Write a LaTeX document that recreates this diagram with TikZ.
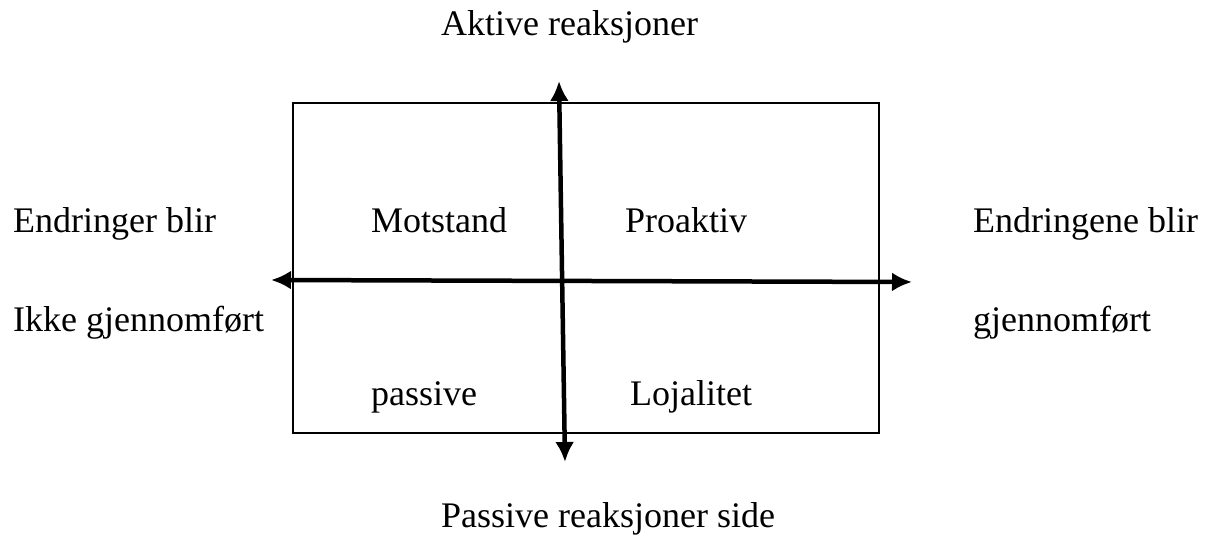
\documentclass[tikz,border=0pt]{standalone}
\usepackage{fontspec}
\setmainfont{Liberation Serif}
\usetikzlibrary{arrows.meta,positioning}

\begin{document}
\begin{tikzpicture}[
    x=1pt, y=-1pt,
    font=\fontsize{36}{40}\selectfont,
    % styles
    frame/.style={draw, line width=1.5pt, minimum width=586pt, minimum height=330pt, inner sep=0pt},
    axis/.style={draw, line width=4.5pt, {Latex[length=20pt,width=19pt]}-{Latex[length=20pt,width=19pt]}},
    txt/.style={anchor=base west, inner sep=0pt}
]
    \useasboundingbox (0,0) rectangle (1213,537);

    % --- 1. Frame ---
    \node[frame] (box) at (586,268) {};

    % --- 2. Axis ends ---
    \coordinate (top) at (559,81);
    \coordinate (bottom) at (565,462);
    \coordinate (left) at (271,280);
    \coordinate (right) at (912,282);

    % --- 3. Axes ---
    \draw[axis] (top) -- (bottom);
    \draw[axis] (left) -- (right);

    % --- 4. Axis labels ---
    \node[txt] (active) at (441,36) {Aktive reaksjoner};
    \node[txt] (passiveside) at (441,527) {Passive reaksjoner side};
    \node[txt] (leftup) at (13,233) {Endringer blir};
    \node[txt] (leftdown) at (13,332) {Ikke gjennomført};
    \node[txt] (rightup) at (973,233) {Endringene blir};
    \node[txt] (rightdown) at (973,332) {gjennomført};

    % --- 5. Quadrants ---
    \node[txt] (motstand) at (371,233) {Motstand};
    \node[txt] (proaktiv) at (625,233) {Proaktiv};
    \node[txt] (passive) at (371,405) {passive};
    \node[txt] (lojalitet) at (630,405) {Lojalitet};

\end{tikzpicture}
\end{document}
